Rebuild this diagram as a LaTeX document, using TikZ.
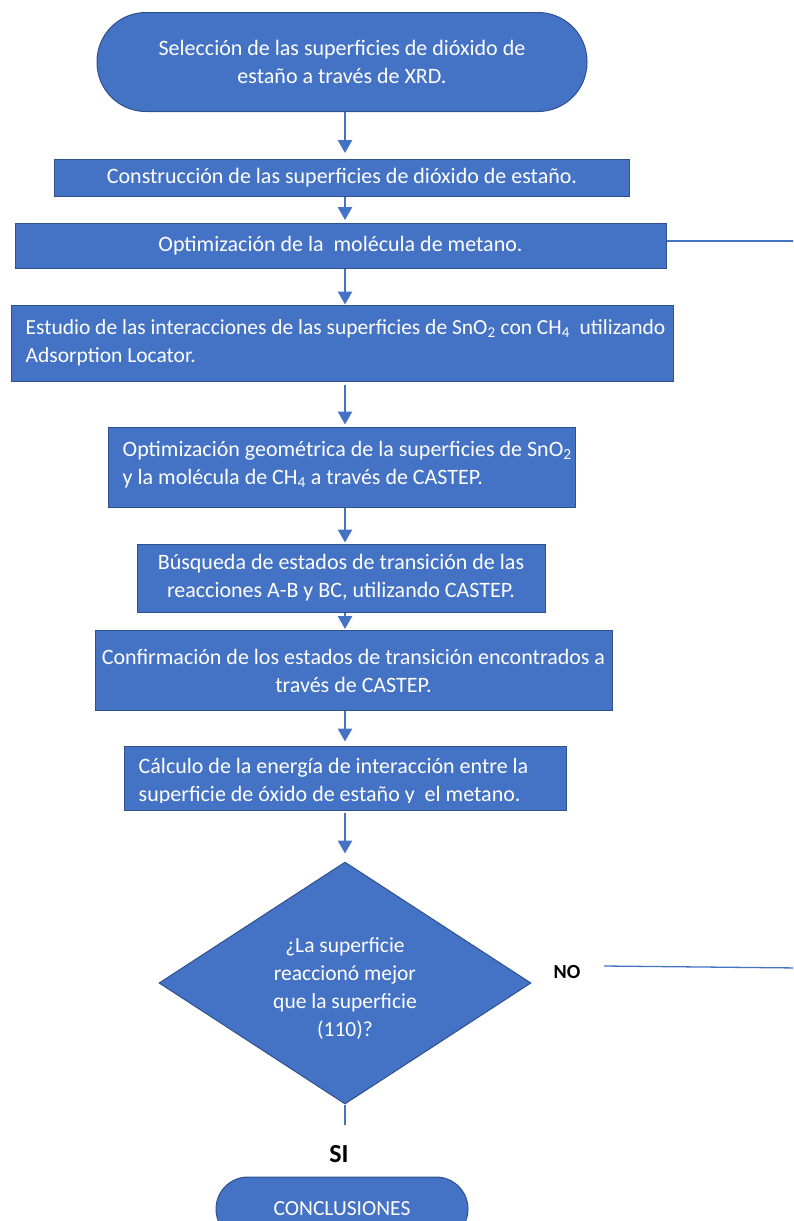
\documentclass[tikz,border=0pt]{standalone}
\usepackage{fontspec}
\setmainfont{Carlito}
\usetikzlibrary{arrows.meta,shapes.geometric}
\definecolor{ofblue}{HTML}{4472C4}
\definecolor{ofdark}{HTML}{2F528F}
\begin{document}
\begin{tikzpicture}[x=1pt,y=-1pt,
  box/.style={draw=ofdark, line width=1pt, fill=ofblue, inner sep=0pt},
  txt/.style={text=white, font=\fontsize{22}{28}\selectfont, inner sep=0pt},
  txts/.style={text=white, font=\fontsize{21.5}{28}\selectfont, inner sep=0pt},
  flow/.style={draw=ofblue, line width=2.6pt, -{Triangle[width=14pt,length=13pt]}},
  thin/.style={draw=ofblue, line width=1.3pt},
  lbl/.style={text=black, font=\bfseries, inner sep=0pt}
]
\useasboundingbox (0,0) rectangle (793,1221);
\clip (0,0) rectangle (793,1221);
\coordinate (ax) at (345,0);

\node[box,txt,align=center,minimum width=490pt,minimum height=99pt,rounded corners=49pt] (n1) at (342,62)
  {Selección de las superficies de dióxido de\\estaño a través de XRD.};

\node[box,txt,align=center,minimum width=575pt,minimum height=37pt] (n2) at (342,178)
  {Construcción de las superficies de dióxido de estaño.};

\node[box,txt,align=center,minimum width=651pt,minimum height=45pt] (n3) at (340.5,246)
  {Optimización de la\ \ molécula de metano.};

\node[box,minimum width=662pt,minimum height=76pt] (n4) at (342,343) {};
\node[txts,align=left,anchor=west] (t4) at ([xshift=15pt,yshift=0pt]n4.west)
  {Estudio de las interacciones de las superficies de SnO\textsubscript{2} con CH\textsubscript{4}\ \ utilizando\\Adsorption Locator.};

\node[box,minimum width=467pt,minimum height=80pt] (n5) at (341.5,467) {};
\node[txt,align=left,anchor=west] (t5) at ([xshift=15pt,yshift=2pt]n5.west)
  {Optimización geométrica de la superficies de SnO\textsubscript{2}\\y la molécula de CH\textsubscript{4} a través de CASTEP.};

\node[box,txt,align=center,minimum width=408pt,minimum height=68pt] (n6) at (341,578)
  {Búsqueda de estados de transición de las\\reacciones A-B y BC, utilizando CASTEP.};

\node[box,txt,align=center,minimum width=517pt,minimum height=80pt] (n7) at (353.5,670.5)
  {Confirmación de los estados de transición encontrados a\\través de CASTEP.};

\node[box,minimum width=442pt,minimum height=64pt] (n8) at (345,778) {};
\begin{scope}
\clip ([yshift=8pt]n8.south west) rectangle (n8.north east);
\node[txt,align=left,anchor=west] (t8) at ([xshift=15pt,yshift=-4pt]n8.west)
  {Cálculo de la energía de interacción entre la\\superficie de óxido de estaño y\ \ el metano.};
\end{scope}

\node[box,diamond,minimum width=372pt,minimum height=242pt] (d) at (345,983) {};
\node[txts,align=center] (td) at (345,988.5)
  {¿La superficie\\reaccionó mejor\\que la superficie\\(110)?};

\node[box,txts,minimum width=252pt,minimum height=64pt,rounded corners=32pt] (n9) at (342,1209)
  {CONCLUSIONES};

\draw[flow,shorten >=6pt] (n1.south -| ax) -- (n2.north -| ax);
\draw[flow,shorten >=3pt] (n2.south -| ax) -- (n3.north -| ax);
\draw[flow] (n3.south -| ax) -- (n4.north -| ax);
\draw[flow,shorten <=3pt,shorten >=2pt] (n4.south -| ax) -- (n5.north -| ax);
\draw[flow,shorten >=1pt] (n5.south -| ax) -- (n6.north -| ax);
\draw[flow,shorten >=1pt] (n6.south -| ax) -- (n7.north -| ax);
\draw[flow,shorten >=4pt] (n7.south -| ax) -- (n8.north -| ax);
\draw[flow,shorten <=2pt,shorten >=8pt] (n8.south -| ax) -- (d.north);

\coordinate (r3) at (800,241);
\draw[thin] ([yshift=5pt]n3.east) -- (r3);

\node[lbl,font=\bfseries\fontsize{20}{24}\selectfont] (no) at (567,972) {NO};
\coordinate (nostart) at (604,966);
\coordinate (noend) at (800,968);
\draw[thin] (nostart) -- (noend);

\coordinate (si) at (345,1125);
\draw[draw=ofblue,line width=2.6pt] (d.south) -- (si);
\node[lbl,font=\bfseries\fontsize{26}{30}\selectfont] (silbl) at (339,1154) {SI};
\end{tikzpicture}
\end{document}
